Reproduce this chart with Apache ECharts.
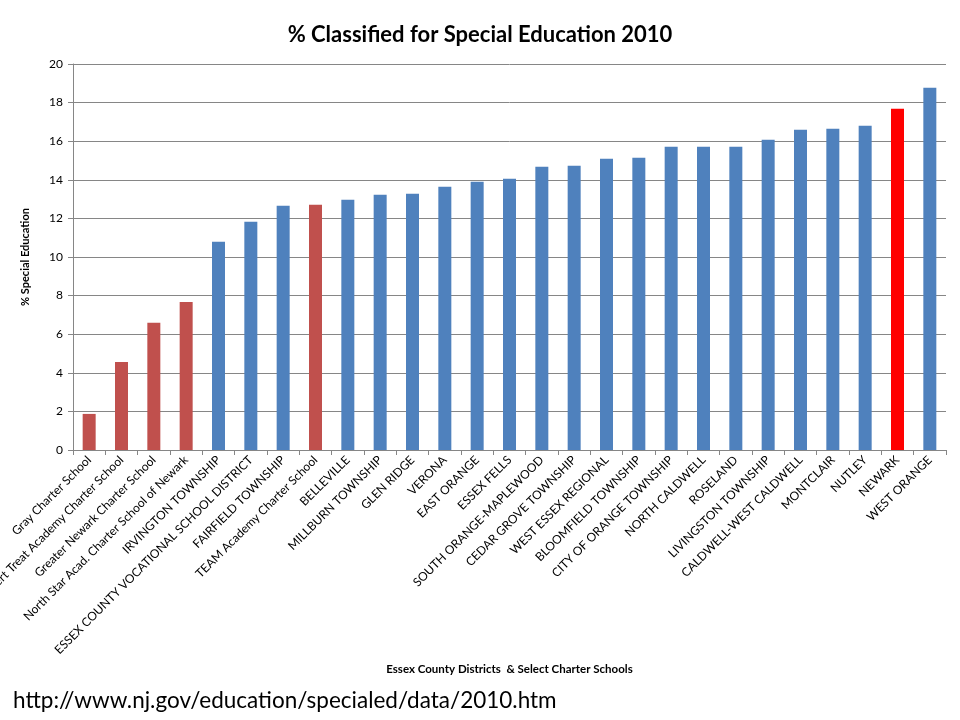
<!DOCTYPE html>
<html>
<head>
<meta charset="utf-8">
<script src="https://cdn.jsdelivr.net/npm/echarts@6/dist/echarts.min.js"></script>
<style>
  html, body { margin: 0; padding: 0; background: #fff; }
  #chart { width: 960px; height: 720px; }
</style>
</head>
<body>
<div id="chart"></div>
<script>
// districts and charter schools, sorted by % classified
const districts = [
  'Gray Charter School',
  'Robert Treat Academy Charter School',
  'Greater Newark Charter School',
  'North Star Acad. Charter School of Newark',
  'IRVINGTON TOWNSHIP',
  'ESSEX COUNTY VOCATIONAL SCHOOL DISTRICT',
  'FAIRFIELD TOWNSHIP',
  'TEAM Academy Charter School',
  'BELLEVILLE',
  'MILLBURN TOWNSHIP',
  'GLEN RIDGE',
  'VERONA',
  'EAST ORANGE',
  'ESSEX FELLS',
  'SOUTH ORANGE-MAPLEWOOD',
  'CEDAR GROVE TOWNSHIP',
  'WEST ESSEX REGIONAL',
  'BLOOMFIELD TOWNSHIP',
  'CITY OF ORANGE TOWNSHIP',
  'NORTH CALDWELL',
  'ROSELAND',
  'LIVINGSTON TOWNSHIP',
  'CALDWELL-WEST CALDWELL',
  'MONTCLAIR',
  'NUTLEY',
  'NEWARK',
  'WEST ORANGE'
];
const pctSpecialEd = [
  1.87, 4.56, 6.59, 7.67, 10.79, 11.82, 12.65, 12.71, 12.96, 13.22,
  13.28, 13.64, 13.9, 14.05, 14.68, 14.73, 15.09, 15.14, 15.71, 15.71,
  15.71, 16.08, 16.59, 16.65, 16.8, 17.68, 18.77
];
const charterSchools = [
  'Gray Charter School',
  'Robert Treat Academy Charter School',
  'Greater Newark Charter School',
  'North Star Acad. Charter School of Newark',
  'TEAM Academy Charter School'
];
const highlighted = ['NEWARK'];
const yTicks = [0, 2, 4, 6, 8, 10, 12, 14, 16, 18, 20];

const FONT = 'Lato, "Open Sans", sans-serif';

function barColor(name) {
  if (highlighted.includes(name)) return '#FF0000';
  if (charterSchools.includes(name)) return '#C0504D';
  return '#4F81BD';
}

const chart = echarts.init(document.getElementById('chart'));
chart.setOption({
  animation: false,
  backgroundColor: '#fff',
  title: [
    {
      text: '% Classified for Special Education 2010',
      left: 'center',
      top: 19,
      textStyle: { fontFamily: FONT, fontSize: 22, fontWeight: 'bold', color: '#000' }
    },
    {
      text: 'http://www.nj.gov/education/specialed/data/2010.htm',
      left: 8,
      top: 684,
      textStyle: { fontFamily: FONT, fontSize: 22.5, fontWeight: 'normal', color: '#000' }
    }
  ],
  grid: { left: 73, right: 14, top: 64, bottom: 270, containLabel: false, outerBoundsMode: 'none' },
  xAxis: {
    type: 'category',
    data: districts,
    name: 'Essex County Districts  & Select Charter Schools',
    nameLocation: 'middle',
    nameGap: 213,
    nameTextStyle: { fontFamily: FONT, fontSize: 11.5, fontWeight: 'bold', color: '#000' },
    axisLine: { lineStyle: { color: '#868686', width: 1 } },
    axisTick: { show: true, length: 5, lineStyle: { color: '#868686' } },
    axisLabel: {
      interval: 0,
      rotate: 45,
      fontFamily: FONT,
      fontSize: 12,
      color: '#000',
      margin: 8
    }
  },
  yAxis: {
    type: 'value',
    min: yTicks[0],
    max: yTicks[yTicks.length - 1],
    interval: 2,
    name: '% Special Education',
    nameLocation: 'middle',
    nameGap: 42,
    nameRotate: 90,
    nameTextStyle: { fontFamily: FONT, fontSize: 11, fontWeight: 'bold', color: '#000' },
    axisLine: { show: true, lineStyle: { color: '#868686', width: 1 } },
    axisTick: { show: true, length: 5, lineStyle: { color: '#868686' } },
    axisLabel: { fontFamily: FONT, fontSize: 12, color: '#000', margin: 10 },
    splitLine: { show: true, lineStyle: { color: '#868686', width: 1 } }
  },
  series: [
    {
      type: 'bar',
      barWidth: 13,
      data: districts.map((name, i) => ({
        value: pctSpecialEd[i],
        itemStyle: { color: barColor(name) }
      }))
    }
  ]
});
</script>
</body>
</html>
